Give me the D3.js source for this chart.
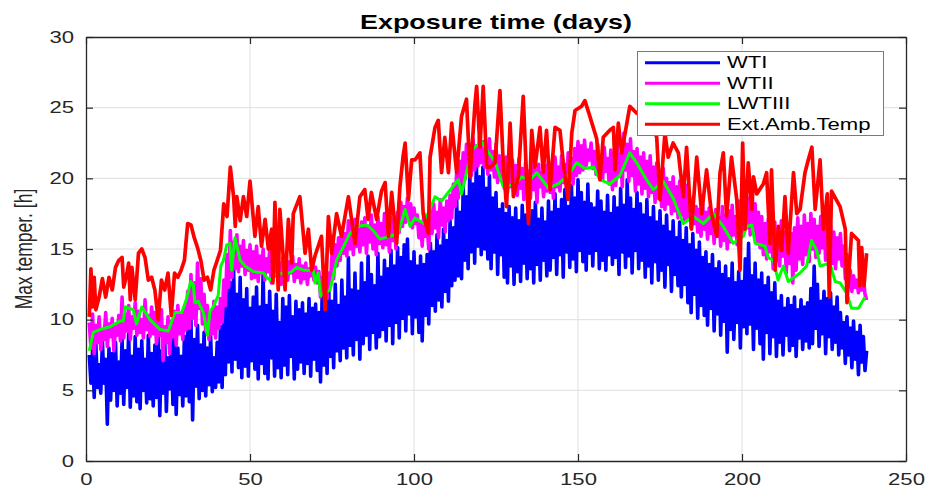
<!DOCTYPE html>
<html>
<head>
<meta charset="utf-8">
<script src="https://cdn.jsdelivr.net/npm/d3@7"></script>
<style>
  html, body { margin: 0; padding: 0; background: #fff; }
  svg { display: block; font-family: "Liberation Sans", Arial, Helvetica, sans-serif; }
</style>
</head>
<body>
<svg id="chart" width="928" height="488"></svg>
<script>
// ---------------- DATA ----------------
const titleText = "Exposure time (days)";
const yLabelText = "Max temper. [h]";
const seriesNames = ["WTI", "WTII", "LWTIII", "Ext.Amb.Temp"];
const seriesColors = ["#0000ff", "#ff00ff", "#00ff00", "#ff0000"];
const xTicks = [0, 50, 100, 150, 200, 250];
const yTicks = [0, 5, 10, 15, 20, 25, 30];

// WTI and WTII are sampled every half day starting at day 1
const firstDay = 1;
const sampleStepDays = 0.5;

const wti = [
  7.5,5.5,7.8,4.5,8.3,5.2,6.8,4.8,8.5,5.5,7.2,2.6,8.0,4.3,7.6,5.0,8.4,3.9,7.0,4.8,
  8.6,4.0,7.8,5.2,9.0,3.8,7.4,4.6,8.8,4.2,7.9,3.7,8.5,5.0,7.2,4.1,8.9,4.4,7.6,3.9,
  8.2,4.5,9.0,3.2,7.8,4.8,8.7,3.5,7.3,5.1,8.6,4.0,9.1,3.3,8.0,4.7,7.4,3.9,8.8,4.6,
  9.4,4.2,10.0,2.9,8.6,5.3,9.6,4.4,8.2,5.0,9.1,4.6,8.0,5.4,8.8,4.9,7.3,5.2,8.4,5.6,
  9.5,5.2,11.0,6.1,14.0,7.0,12.6,6.3,13.6,7.2,11.8,6.6,13.0,5.9,11.4,6.7,12.2,6.0,10.8,7.1,
  11.6,6.5,12.3,5.8,10.9,6.9,13.4,6.2,11.0,5.8,12.0,7.3,10.6,6.0,11.8,6.6,9.8,5.9,11.5,6.8,
  10.9,6.1,11.7,7.4,10.2,5.8,11.3,6.5,10.7,7.0,11.2,6.2,10.4,6.9,11.5,6.0,10.8,7.2,11.1,6.4,
  10.5,5.6,11.8,6.8,10.9,6.2,12.2,7.4,11.3,6.6,12.5,7.8,11.0,7.1,12.8,8.0,11.6,7.3,14.4,8.2,
  12.1,7.5,13.3,8.6,12.0,7.2,14.0,8.3,12.6,8.9,14.5,7.9,13.2,9.1,12.4,8.0,14.7,8.8,13.0,9.3,
  14.2,8.5,13.6,9.6,14.9,8.3,13.8,9.8,15.1,8.7,14.4,10.1,15.3,9.2,15.7,10.4,14.1,9.0,14.8,10.2,
  13.8,9.1,14.5,8.5,13.9,10.3,14.6,9.7,15.4,11.0,14.8,10.6,16.0,11.4,15.2,10.9,16.4,12.0,15.6,11.3,
  17.0,12.4,16.5,12.8,18.5,13.1,17.6,12.9,19.5,14.2,18.7,13.6,20.4,14.8,19.6,14.0,21.3,15.2,20.1,14.6,
  20.8,15.0,19.3,14.3,20.2,13.6,18.6,14.8,19.0,13.2,17.8,14.6,18.2,13.0,17.5,12.6,18.0,13.8,17.2,12.5,
  17.9,13.4,17.0,12.7,18.1,14.0,17.4,12.9,16.8,13.6,17.7,12.6,18.3,13.9,17.1,12.8,17.9,14.2,16.9,13.1,
  18.4,13.5,17.6,14.4,18.9,13.2,17.8,14.6,18.5,13.0,19.2,14.8,18.0,13.7,19.5,14.3,18.6,13.4,19.9,14.9,
  19.0,14.1,18.3,13.5,19.6,14.7,18.2,13.8,17.9,14.9,19.1,13.6,18.4,14.2,17.6,13.5,18.8,14.6,17.5,13.9,
  18.7,14.4,17.9,13.2,19.3,14.8,18.1,13.7,19.9,14.5,18.6,13.3,17.8,14.9,19.0,13.6,18.2,14.2,17.4,13.0,
  18.5,13.8,17.2,12.6,18.0,14.1,16.9,12.8,17.7,13.5,16.6,12.3,17.4,13.9,16.2,12.0,17.0,13.2,15.8,12.4,
  16.9,11.6,15.6,12.5,16.5,11.2,15.3,10.5,16.1,11.8,14.9,10.1,15.5,11.0,14.4,10.3,14.8,9.6,13.9,10.8,
  14.6,9.2,13.6,10.4,14.1,8.9,13.2,9.9,13.8,7.7,12.9,9.3,14.0,8.6,12.6,9.8,13.4,8.0,12.7,9.5,
  14.3,9.0,15.4,9.7,13.1,7.9,14.0,9.4,12.8,8.3,13.3,7.2,12.4,9.1,13.0,7.6,11.9,8.8,12.6,7.4,
  11.3,8.4,11.7,7.5,10.8,8.9,11.5,7.8,11.0,8.2,11.6,7.4,10.7,8.7,11.4,7.9,10.9,8.5,11.2,8.0,
  12.2,8.3,13.8,9.4,12.5,8.1,11.3,9.0,12.0,7.6,11.5,8.8,11.9,7.9,10.9,8.4,11.6,7.5,10.5,8.0,
  9.8,6.9,10.2,7.5,9.4,6.6,9.9,7.2,9.1,6.1,9.6,7.0,8.8,6.4,7.8
];

const wtii = [
  9.8,8.0,10.4,7.6,9.6,8.4,10.2,7.9,9.3,8.6,10.5,8.1,9.7,8.8,10.1,7.8,9.5,8.9,10.3,8.5,
  11.6,8.7,10.4,9.2,11.0,8.6,10.2,9.4,11.2,8.9,10.6,9.1,10.0,8.7,11.4,9.3,10.3,8.8,10.9,9.0,
  10.5,8.3,9.8,8.9,10.7,7.1,9.5,8.4,10.2,7.6,9.9,8.8,10.6,8.2,11.0,9.0,10.3,8.6,10.8,9.3,
  12.0,9.4,13.2,10.1,12.6,9.6,14.0,10.8,12.9,9.7,11.8,9.2,11.0,8.6,10.5,9.0,11.3,8.7,10.9,9.4,
  11.5,9.8,12.8,11.0,14.6,12.3,16.3,13.0,15.5,13.6,16.0,13.4,15.2,13.8,15.6,13.2,14.9,13.5,15.3,12.9,
  14.8,13.0,15.2,12.7,14.5,13.3,15.0,12.8,14.3,13.4,14.9,12.6,14.2,13.1,14.7,12.9,14.0,12.5,14.4,13.2,
  14.6,12.8,14.1,13.3,14.5,12.7,13.9,13.0,14.3,12.6,13.8,12.9,14.0,12.5,13.6,13.1,14.2,12.8,13.7,12.6,
  13.4,11.6,13.0,12.1,12.8,11.5,13.3,12.4,14.6,12.9,15.3,13.8,15.8,14.2,16.5,14.7,16.1,14.5,17.0,15.0,
  16.8,14.6,17.1,15.2,16.4,14.8,16.9,15.3,17.2,14.7,16.6,15.5,17.4,15.0,16.7,14.6,17.3,15.4,16.8,15.1,
  17.5,15.3,16.9,14.8,17.2,15.6,16.7,15.0,17.6,16.2,18.3,16.6,18.0,16.9,18.6,17.0,18.2,16.5,17.9,16.8,
  17.4,15.8,16.9,15.2,17.5,15.9,16.6,15.0,17.8,16.1,18.2,16.5,17.6,15.8,18.5,16.7,17.9,16.2,18.4,17.0,
  18.8,17.2,19.6,18.0,20.4,18.6,21.2,19.5,21.8,19.9,22.4,20.5,21.9,20.2,22.8,20.6,22.3,20.9,23.0,21.1,
  22.6,20.8,22.1,20.3,22.8,20.6,21.9,20.1,22.4,19.7,21.6,19.9,21.2,19.3,21.5,19.0,20.8,19.4,21.3,19.1,
  20.9,18.8,21.4,19.3,20.7,18.5,21.1,19.0,20.5,18.6,21.3,19.2,20.6,18.3,21.0,19.4,20.4,18.7,20.9,19.1,
  21.2,19.0,20.6,18.6,21.5,19.4,20.8,19.1,21.6,19.7,21.0,19.3,21.8,20.0,21.4,19.6,22.1,20.2,22.6,20.4,
  22.3,20.6,22.7,20.9,22.0,21.3,22.5,20.7,21.9,20.3,22.4,20.8,21.6,19.9,22.2,20.5,21.4,19.6,22.0,19.2,
  21.8,19.5,22.5,20.3,21.7,19.4,23.2,20.6,22.4,19.8,22.8,20.2,21.9,19.1,22.1,19.6,21.5,18.9,21.8,19.3,
  21.2,18.7,21.6,19.0,20.8,18.3,21.1,18.6,20.4,18.0,20.7,17.8,20.0,18.2,19.7,17.5,20.1,17.7,19.4,17.2,
  19.8,17.4,19.2,16.9,19.5,17.1,18.7,16.5,18.4,16.8,18.0,16.2,17.8,15.9,18.2,16.4,17.6,15.7,17.9,16.1,
  17.5,15.4,17.8,15.9,17.2,15.2,18.0,15.6,17.4,15.0,17.7,15.5,18.1,16.0,17.3,15.3,18.4,15.8,18.9,16.2,
  19.3,16.5,18.6,16.0,19.5,16.3,18.2,15.4,17.6,15.1,17.3,14.6,16.8,14.3,17.1,14.8,16.5,13.6,16.9,14.2,
  16.4,13.8,17.0,14.5,16.2,13.3,16.7,14.0,16.1,12.6,16.5,13.5,17.2,14.3,16.6,13.9,17.4,14.6,16.8,14.1,
  17.5,15.0,17.1,14.4,16.6,14.7,17.3,15.1,16.9,14.2,17.5,14.8,16.7,14.0,16.2,13.6,15.8,14.3,16.1,13.8,
  15.2,12.9,14.6,12.4,13.5,12.0,13.1,12.3,12.8,11.9,12.6,12.1,13.0,11.8,11.4
];

const lwtiiiDays = [1,2.2,4.3,7.3,10.4,11.4,11.9,14.4,15.4,17,19.5,22.6,25.1,27.1,29.2,30.7,31.9,32.7,33.2,34.2,35.8,37,37.8,38.8,40.3,41.1,41.9,42.9,43.9,44.4,45.4,47,48.5,51,54.1,55.1,56.1,57.6,60.2,62.2,64.2,66.3,69.3,69.8,70.8,71.5,74.4,76.4,79,80.5,82.5,85.6,87.6,89.6,92.7,95.2,97.3,98.8,100.3,103,106.4,108.4,113.5,114.5,117.6,120.6,122.2,124.7,127.2,130.8,132.8,135.4,137.4,141,144,147,149.6,152.1,154.7,156.7,159.7,162.8,165.8,167.9,170.9,173,176,179,182.1,185.2,188.2,191.3,194.3,197.3,200.4,201.4,203,204,207,208,209.6,211,212.6,214.1,217.7,219.7,221.2,222.8,223.8,226.8,228.4,229.9,231.9,233.4,235.5,237.5];
const lwtiii = [7.8,9.1,9.3,9.5,9.9,9.9,10.9,10.7,9.7,10.9,10.0,9.3,9.2,10.5,10.5,11.5,12.7,12.5,11.2,11.3,10.5,8.9,10.6,10.9,11.7,13.8,14.2,15.3,15.4,13.5,15.8,14.2,13.8,13.4,13.3,13.0,12.8,13.2,13.3,13.3,13.7,13.5,13.5,12.6,13.3,11.7,12.1,14.2,15.4,16.1,16.6,16.7,16.3,15.7,15.9,16.1,17.8,16.6,17.2,16.8,18.7,18.4,19.9,18.9,22.0,22.6,22.0,21.2,19.4,19.6,20.1,19.9,20.4,19.3,19.6,20.2,21.1,20.7,20.8,19.9,19.6,20.2,21.8,21.1,19.9,19.2,19.8,18.6,16.8,17.3,16.8,17.5,16.6,15.4,15.9,16.6,16.7,15.4,15.2,14.4,14.2,12.8,13.8,12.7,13.3,13.8,15.6,14.9,13.8,14.0,12.7,12.6,11.9,10.8,10.8,11.6];

const extDays = [1,1.5,2,2.5,3,4,5,6,7,8,9,10,11,11.5,12.5,13,13.5,14,15,16,17,18,19,20,21,22,23,24,25,26,27,28,29,30,31,32,33,34,35,36,37,38,39,40,41,42,43,44,45,45.5,46,47,48,49,50,51.5,52.5,53.5,54.6,55.6,56.6,57,57.6,58.6,59.1,60.2,60.7,61.7,62.7,63.2,65.2,66.8,67.8,68.8,69.8,71.8,72.9,73.9,74.9,76.4,77.9,80,82,83.5,85,86,87,88.6,90.1,91.2,92.2,93.2,94.7,95.7,96.7,97.3,98.3,99.3,100.3,101.8,102.8,104.4,104.9,106.4,107.4,108.4,109.4,110.5,111.5,113,114.5,116,117.1,118.6,119.1,120.1,121.1,122.2,123.2,124.7,126.2,127.2,128.2,129.3,130.3,131.8,133.3,134.9,135.9,136.9,138.4,139.4,140.4,141.5,143,144.5,145.5,147,148.1,149.1,151.1,152.1,153.6,155.7,156.7,157.7,159.7,160.8,161.3,162.3,163.3,165.8,167.9,170.4,174,175,176.5,177.5,179,180.6,182.1,183.1,184.6,186.2,187.7,189.2,190.7,192.3,193.3,194.3,195.3,196.8,198.4,199.4,200.2,200.9,201.9,203,203.5,204.5,206.5,207.5,208.5,209,210.1,211.1,212.1,213.1,214.1,215.7,216.7,217.7,219.2,220.2,221.3,222.3,223.8,224.8,226,226.6,227.3,229.9,231.5,232,233.4,235.5,235.9,236.5,237.2,238];
const extTemp = [10.2,13.6,10.9,13.0,10.7,11.6,12.9,11.6,13.0,12.1,13.7,14.2,14.4,12.3,13.3,14.0,11.4,13.7,11.4,14.7,15.0,14.4,12.8,13.0,12.1,10.0,12.8,12.1,13.3,10.3,13.3,13.0,13.5,14.2,16.8,16.7,15.8,15.1,14.2,12.8,13.0,12.1,13.5,14.2,14.9,18.2,17.3,20.8,18.7,16.6,18.7,17.0,18.7,17.3,19.8,15.9,18.0,15.2,17.1,15.0,16.4,12.6,18.3,12.1,17.8,14.2,12.1,17.1,14.0,17.5,18.7,14.7,16.4,13.5,14.5,15.9,10.7,17.3,14.7,17.5,15.9,18.7,15.4,18.7,19.2,17.1,19.0,17.1,19.1,19.7,15.9,19.0,15.4,19.4,21.6,22.5,18.5,21.3,21.3,21.8,17.5,16.1,21.5,23.6,24.1,20.4,22.9,20.4,23.9,20.4,24.4,25.6,20.1,25.3,26.5,22.2,26.5,20.8,20.8,21.1,26.2,21.1,18.0,23.9,18.7,20.1,25.8,16.8,23.4,20.8,23.6,20.4,23.4,19.2,23.6,23.4,21.1,18.5,23.2,24.8,25.1,25.5,24.4,22.8,19.9,22.9,23.4,23.6,20.6,23.9,21.8,25.1,24.6,25.1,22.9,18.5,23.2,21.5,22.5,21.8,18.7,22.2,16.4,21.5,17.5,20.6,17.5,15.9,20.4,21.8,17.3,21.5,18.5,13.5,22.5,16.4,21.1,17.8,20.1,18.9,19.6,20.4,15.4,20.6,13.5,16.6,14.9,18.7,14.7,20.4,17.5,17.8,20.4,21.3,22.2,17.8,21.3,16.4,18.9,11.6,19.1,18.0,16.4,11.2,16.1,15.6,12.4,15.1,12.4,14.7];

// ---------------- CHART ----------------
const plotLeft = 86, plotRight = 906, plotTop = 37, plotBottom = 461;
const TX = 1.38; // horizontal text stretch of the reference rendering
const axisColor = "#262626";
const fontFam = '"Liberation Sans", Arial, Helvetica, sans-serif';

const svg = d3.select("#chart");
const x = d3.scaleLinear().domain([0, 250]).range([plotLeft, plotRight]);
const y = d3.scaleLinear().domain([0, 30]).range([plotBottom, plotTop]);

// grid
const grid = svg.append("g");
grid.selectAll("line.gx").data(xTicks.slice(1, -1)).join("line")
  .attr("x1", d => x(d)).attr("x2", d => x(d))
  .attr("y1", plotTop).attr("y2", plotBottom)
  .attr("stroke", "#dfdfdf").attr("stroke-width", 1);
grid.selectAll("line.gy").data(yTicks.slice(1, -1)).join("line")
  .attr("x1", plotLeft).attr("x2", plotRight)
  .attr("y1", d => y(d)).attr("y2", d => y(d))
  .attr("stroke", "#dfdfdf").attr("stroke-width", 1);

// series
const line = d3.line().x(d => x(d[0])).y(d => y(d[1]));
const halfDaySeries = arr => arr.map((v, i) => [firstDay + i * sampleStepDays, v]);
const series = [
  { pts: halfDaySeries(wti), color: seriesColors[0], w: 3.6 },
  { pts: halfDaySeries(wtii), color: seriesColors[1], w: 3.6 },
  { pts: lwtiiiDays.map((d, i) => [d, lwtiii[i]]), color: seriesColors[2], w: 3 },
  { pts: extDays.map((d, i) => [d, extTemp[i]]), color: seriesColors[3], w: 3.7 }
];
const plot = svg.append("g");
series.forEach(s => {
  plot.append("path").datum(s.pts)
    .attr("d", line)
    .attr("fill", "none")
    .attr("stroke", s.color)
    .attr("stroke-width", s.w)
    .attr("stroke-linejoin", "round");
});

// axes
function styleAxis(g) {
  g.select(".domain").attr("stroke", axisColor).attr("stroke-width", 1.3);
  g.selectAll(".tick line").attr("stroke", axisColor).attr("stroke-width", 1.2);
  g.selectAll(".tick text").attr("fill", axisColor)
    .style("font-family", fontFam).style("font-size", "16px");
}
const gx = svg.append("g").attr("transform", `translate(0,${plotBottom})`)
  .call(d3.axisBottom(x).tickValues(xTicks).tickSize(-7).tickSizeOuter(0).tickFormat(d3.format("d")));
styleAxis(gx);
gx.selectAll(".tick text").attr("y", 13).attr("transform", `scale(${TX},1)`);

const gy = svg.append("g").attr("transform", `translate(${plotLeft},0)`)
  .call(d3.axisLeft(y).tickValues(yTicks).tickSize(-7).tickSizeOuter(0).tickFormat(d3.format("d")));
styleAxis(gy);
gy.selectAll(".tick text").attr("x", -12 / TX).attr("transform", `scale(${TX},1)`);

const gt = svg.append("g").attr("transform", `translate(0,${plotTop})`)
  .call(d3.axisTop(x).tickValues(xTicks).tickSize(-7).tickSizeOuter(0).tickFormat(""));
styleAxis(gt);
const gr = svg.append("g").attr("transform", `translate(${plotRight},0)`)
  .call(d3.axisRight(y).tickValues(yTicks).tickSize(-7).tickSizeOuter(0).tickFormat(""));
styleAxis(gr);

// title
svg.append("text")
  .attr("transform", `translate(${(plotLeft + plotRight) / 2},29) scale(${TX},1)`)
  .attr("text-anchor", "middle")
  .style("font-family", fontFam).style("font-size", "19.5px").style("font-weight", "bold")
  .attr("fill", "#000")
  .text(titleText);

// y label
svg.append("text")
  .attr("transform", `translate(24,${(plotTop + plotBottom) / 2}) scale(${TX},1) rotate(-90)`)
  .attr("text-anchor", "middle").attr("dy", "0.35em")
  .style("font-family", fontFam).style("font-size", "17.5px")
  .attr("fill", axisColor)
  .text(yLabelText);

// legend
const lg = svg.append("g");
lg.append("rect").attr("x", 637.5).attr("y", 51.5).attr("width", 246).attr("height", 84)
  .attr("fill", "#fff").attr("stroke", "#7a7a7a").attr("stroke-width", 1);
const rowY = [62.7, 83.2, 103.7, 124.2];
seriesNames.forEach((name, i) => {
  lg.append("line").attr("x1", 645).attr("x2", 720).attr("y1", rowY[i]).attr("y2", rowY[i])
    .attr("stroke", seriesColors[i]).attr("stroke-width", 3);
  lg.append("text")
    .attr("transform", `translate(727,${rowY[i]}) scale(${TX},1)`)
    .attr("dy", "0.36em")
    .style("font-family", fontFam).style("font-size", "16px")
    .attr("fill", "#000")
    .text(name);
});
</script>
</body>
</html>
